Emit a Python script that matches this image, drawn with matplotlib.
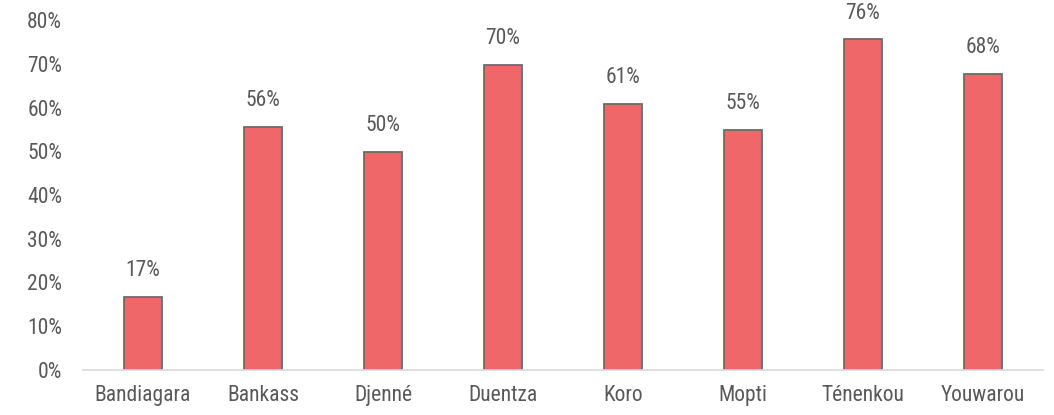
import matplotlib.pyplot as plt
import numpy as np

plt.rcParams['font.family'] = ['Roboto Condensed', 'Roboto', 'DejaVu Sans']

cercles = ['Bandiagara', 'Bankass', 'Djenné', 'Duentza', 'Koro', 'Mopti', 'Ténenkou', 'Youwarou']
values = [16.7, 55.6, 49.8, 69.7, 60.8, 54.9, 75.6, 67.7]
yticks = [0, 10, 20, 30, 40, 50, 60, 70, 80]

text_col = '#595959'

fig = plt.figure(figsize=(10.54, 4.15), dpi=100)
ax = fig.add_axes([83 / 1054, 1 - 370 / 415, 960 / 1054, 350 / 415])

x = np.arange(len(cercles))
bars = ax.bar(x, values, width=0.31, color='#F0676A', edgecolor='#6B6B6B', linewidth=1.3, zorder=3)

for b, v in zip(bars, values):
    ax.text(b.get_x() + b.get_width() / 2, v + 3.6, f'{v:.0f}%', ha='center', va='bottom',
            fontsize=15.5, color=text_col)

ax.set_xlim(-0.5, len(cercles) - 0.5)
ax.set_ylim(0, 80)
ax.set_yticks(yticks)
ax.set_yticklabels([f'{t}%' for t in yticks])
ax.set_xticks(x)
ax.set_xticklabels(cercles)
ax.tick_params(axis='both', length=0, labelsize=15.5, labelcolor=text_col)
ax.tick_params(axis='x', pad=11)
ax.tick_params(axis='y', pad=15)

for s in ['top', 'right', 'left']:
    ax.spines[s].set_visible(False)
ax.spines['bottom'].set_color('#D9D9D9')
ax.spines['bottom'].set_linewidth(1.2)
ax.spines['bottom'].set_zorder(4)

fig.savefig('out.png', dpi=100)
